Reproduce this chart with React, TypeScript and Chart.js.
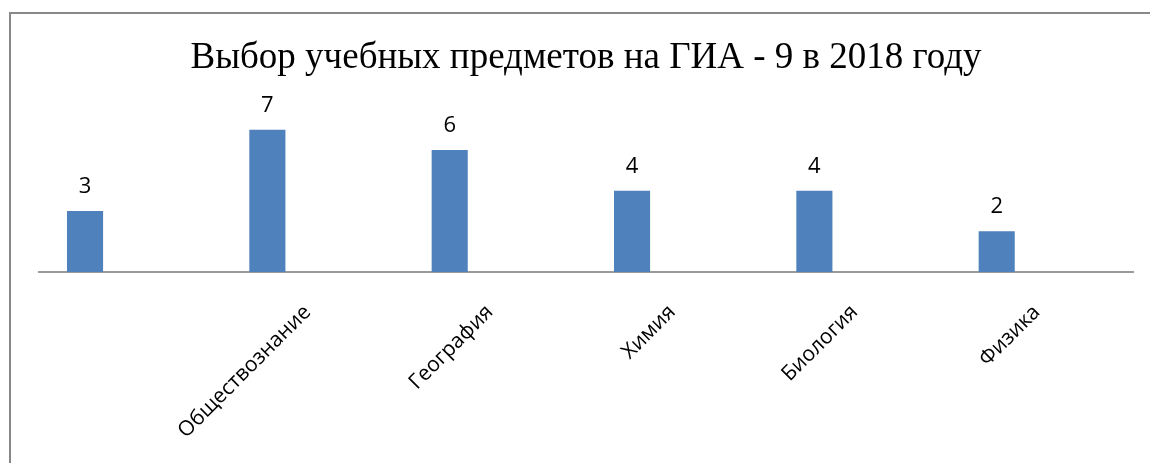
import React, { useEffect, useRef } from "react";
import { Chart, registerables } from "chart.js";

Chart.register(...registerables);

const TITLE = "Выбор учебных предметов на ГИА - 9 в 2018 году";
const categories = ["", "Обществознание", "География", "Химия", "Биология", "Физика"];
const values = [3, 7, 6, 4, 4, 2];
// the source chart has a second, empty series that pushes the bars left of centre
const emptySeries = [null, null, null, null, null, null];
const yMin = 0;
const yMax = 8;

const dataLabelPlugin = {
  id: "dataLabels",
  afterDatasetsDraw(chart: any) {
    const ctx = chart.ctx;
    const meta = chart.getDatasetMeta(0);
    ctx.save();
    ctx.font = "22px 'Open Sans'";
    ctx.fillStyle = "#000";
    ctx.textAlign = "center";
    ctx.textBaseline = "alphabetic";
    meta.data.forEach((bar: any, i: number) => {
      ctx.fillText(String(values[i]), bar.x, bar.y - 18);
    });
    ctx.restore();
  },
};

export default function App() {
  const ref = useRef<HTMLCanvasElement>(null);
  useEffect(() => {
    document.body.style.margin = "0";
    const chart = new Chart(ref.current!, {
      type: "bar",
      data: {
        labels: categories,
        datasets: [
          {
            data: values,
            backgroundColor: "#4F81BD",
            borderWidth: 0,
            categoryPercentage: 0.99,
            barPercentage: 0.4,
          },
          {
            data: emptySeries as any,
            backgroundColor: "#C0504D",
            borderWidth: 0,
            categoryPercentage: 0.99,
            barPercentage: 0.4,
          },
        ],
      },
      options: {
        animation: false,
        responsive: false,
        devicePixelRatio: 1,
        layout: { padding: { left: 39, right: 17, top: 0, bottom: 0 } },
        plugins: {
          legend: { display: false },
          tooltip: { enabled: false },
          title: {
            display: true,
            text: TITLE,
            color: "#000",
            font: { family: "'Liberation Serif'", size: 37, weight: "normal" as any, lineHeight: 1.2 },
            padding: { top: 36, bottom: 29 },
          },
        },
        scales: {
          x: {
            grid: { display: false },
            border: { display: true, color: "#9a9a9a", width: 2 },
            ticks: {
              color: "#000",
              font: { family: "'Open Sans'", size: 21 },
              minRotation: 45,
              maxRotation: 45,
              labelOffset: -5,
              padding: 20,
              autoSkip: false,
            },
            afterFit: (scale: any) => {
              scale.height = 191;
            },
          },
          y: {
            display: false,
            min: yMin,
            max: yMax,
          },
        },
      },
      plugins: [dataLabelPlugin],
    });
    return () => chart.destroy();
  }, []);

  return (
    <div style={{ position: "relative", width: 1150, height: 463, background: "#fff", overflow: "hidden" }}>
      <canvas ref={ref} width={1150} height={463} style={{ display: "block" }} />
      <div
        style={{
          position: "absolute",
          left: 9,
          top: 12,
          width: 1200,
          height: 500,
          borderLeft: "2px solid #888",
          borderTop: "2px solid #888",
          pointerEvents: "none",
        }}
      />
    </div>
  );
}
